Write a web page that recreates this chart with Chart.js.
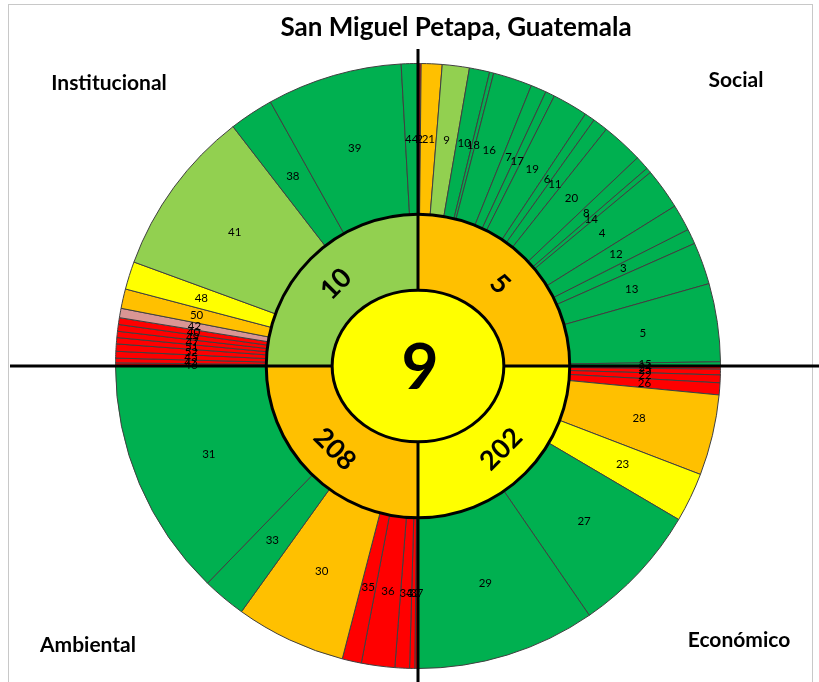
<!DOCTYPE html>
<html lang="es">
<head>
<meta charset="utf-8">
<title>San Miguel Petapa, Guatemala</title>
<script src="https://cdn.jsdelivr.net/npm/chart.js@4.4.1/dist/chart.umd.min.js"></script>
<style>
    html, body { margin: 0; padding: 0; background: #fff; }
    #wrap { width: 819px; height: 682px; }
</style>
</head>
<body>
<div id="wrap"><canvas id="sunburst" width="819" height="682"></canvas></div>
<script>
// Anillo exterior: indicadores en orden horario desde las 12
const indicadores = [
    '1', '2', '21', '9', '10', '18', '16', '7', '17', '19', '6', '11', '20', '8', '14', '4', '12', '3', '13', '5', '15',
    '24', '25', '22', '26', '28', '23', '27', '29',
    '37', '32', '34', '36', '35', '30', '33', '31',
    '46', '43', '45', '52', '51', '47', '49', '40', '42', '50', '48', '41', '38', '39', '44'
];
// peso (ancho angular) de cada indicador
const pesos = [
    0.2, 0.4, 4.0, 5.2, 3.9, 0.8, 7.5, 3.0, 1.8, 6.8, 2.0, 2.9, 8.0, 2.7, 1.0, 7.9, 5.1, 2.9, 8.1, 15.0, 0.8,
    0.6, 1.1, 1.5, 2.3, 15.5, 9.5, 25.0, 34.5,
    0.6, 1.0, 2.8, 6.4, 3.7, 21.2, 8.4, 45.9,
    0.6, 0.9, 1.3, 1.4, 1.2, 1.2, 1.3, 1.3, 1.8, 3.75, 5.35, 32.2, 8.5, 26.0, 3.2
];
const estados = [
    'rojo', 'rojo', 'naranja', 'verdeClaro', 'verde', 'verde', 'verde', 'verde', 'verde', 'verde', 'verde',
    'verde', 'verde', 'verde', 'verde', 'verde', 'verde', 'verde', 'verde', 'verde', 'verde',
    'rojo', 'rojo', 'rojo', 'rojo', 'naranja', 'amarillo', 'verde', 'verde',
    'rojo', 'rojo', 'rojo', 'rojo', 'rojo', 'naranja', 'verde', 'verde',
    'rojo', 'rojo', 'rojo', 'rojo', 'rojo', 'rojo', 'rojo', 'rojo', 'rosa', 'naranja', 'amarillo', 'verdeClaro',
    'verde', 'verde', 'verde'
];

// Anillo intermedio: dimensiones
const dimensiones = ['Social', 'Económico', 'Ambiental', 'Institucional'];
const dimValores = ['5', '202', '208', '10'];
const dimPesos = [90, 90, 90, 90];
const dimEstados = ['naranja', 'amarillo', 'naranja', 'verdeClaro'];

// Centro: posicion global
const global = '9';
const globalEstado = 'amarillo';

const titulo = 'San Miguel Petapa, Guatemala';

const colores = {
    rojo: '#FF0000',
    naranja: '#FFC000',
    amarillo: '#FFFF00',
    verdeClaro: '#92D050',
    verde: '#00B050',
    rosa: '#DA9694'
};

const fuente = 'Lato, "Open Sans", sans-serif';
const ESCALA_X_CENTRO = 86 / 76;   // el circulo central es algo mas ancho que alto

// Normaliza un angulo de texto para que siempre se lea de izquierda a derecha
function anguloLegible(a) {
    while (a > Math.PI / 2) a -= Math.PI;
    while (a <= -Math.PI / 2) a += Math.PI;
    return a;
}

const decoracion = {
    id: 'decoracion',
    beforeDraw(chart) {
        const ctx = chart.ctx;
        ctx.save();
        ctx.fillStyle = '#fff';
        ctx.fillRect(0, 0, chart.width, chart.height);
        // marco
        ctx.strokeStyle = '#c8c8c8';
        ctx.lineWidth = 1;
        ctx.strokeRect(8.5, 4.5, 804, 700);
        // titulo
        ctx.fillStyle = '#000';
        ctx.textAlign = 'center';
        ctx.textBaseline = 'middle';
        ctx.font = 'bold 26px ' + fuente;
        ctx.fillText(titulo, 456, 28);
        // nombres de dimensiones en las esquinas
        ctx.font = 'bold 21px ' + fuente;
        ctx.fillText(dimensiones[0], 736, 80);
        ctx.fillText(dimensiones[1], 739, 640);
        ctx.fillText(dimensiones[2], 88, 645);
        ctx.fillText(dimensiones[3], 109, 83);
        ctx.restore();
    },
    beforeDatasetDraw(chart, args) {
        if (args.index !== 2) return;
        const ctx = chart.ctx;
        const arco = args.meta.data[0];
        // ejes que separan los cuadrantes
        ctx.save();
        ctx.strokeStyle = '#000';
        ctx.lineWidth = 3;
        ctx.beginPath();
        ctx.moveTo(10, arco.y);
        ctx.lineTo(chart.width, arco.y);
        ctx.moveTo(arco.x, 49);
        ctx.lineTo(arco.x, chart.height);
        ctx.stroke();
        ctx.restore();
        // centro ovalado
        ctx.save();
        ctx.translate(arco.x, arco.y);
        ctx.scale(ESCALA_X_CENTRO, 1);
        ctx.translate(-arco.x, -arco.y);
    },
    afterDatasetDraw(chart, args) {
        if (args.index !== 2) return;
        chart.ctx.restore();
    },
    afterDatasetsDraw(chart) {
        const ctx = chart.ctx;
        const externo = chart.getDatasetMeta(0).data;
        const medio = chart.getDatasetMeta(1).data;
        const centro = chart.getDatasetMeta(2).data[0];
        const cx = centro.x, cy = centro.y;

        ctx.save();
        ctx.strokeStyle = '#000';
        ctx.lineWidth = 3;
        ctx.beginPath();
        ctx.arc(cx, cy, medio[0].outerRadius, 0, Math.PI * 2);
        ctx.stroke();
        ctx.beginPath();
        ctx.ellipse(cx, cy, centro.outerRadius * ESCALA_X_CENTRO, centro.outerRadius, 0, 0, Math.PI * 2);
        ctx.stroke();

        ctx.fillStyle = '#000';
        ctx.textAlign = 'center';
        ctx.textBaseline = 'middle';

        // etiquetas de indicadores
        ctx.font = '11.5px ' + fuente;
        externo.forEach((arc, i) => {
            const p = arc.getCenterPoint();
            ctx.fillText(indicadores[i], p.x, p.y);
        });

        // etiquetas de dimensiones, tangentes al anillo
        ctx.font = 'bold 27px ' + fuente;
        medio.forEach((arc, i) => {
            const mid = (arc.startAngle + arc.endAngle) / 2;
            const r = (arc.innerRadius + arc.outerRadius) / 2 + 3;
            ctx.save();
            ctx.translate(cx + Math.cos(mid) * r, cy + Math.sin(mid) * r);
            ctx.rotate(anguloLegible(mid + Math.PI / 2));
            ctx.fillText(dimValores[i], 0, 1);
            ctx.restore();
        });

        // valor global
        ctx.font = 'bold 64px ' + fuente;
        ctx.fillText(global, cx + 2, cy + 2);
        ctx.restore();
    }
};

const ctx = document.getElementById('sunburst').getContext('2d');
new Chart(ctx, {
    type: 'doughnut',
    data: {
        labels: indicadores,
        datasets: [
            {
                label: 'Indicadores',
                data: pesos,
                backgroundColor: estados.map(e => colores[e]),
                borderColor: '#404040',
                borderWidth: 1,
                weight: 151
            },
            {
                label: 'Dimensiones',
                data: dimPesos,
                backgroundColor: dimEstados.map(e => colores[e]),
                borderWidth: 0,
                weight: 76
            },
            {
                label: 'Global',
                data: [1],
                backgroundColor: [colores[globalEstado]],
                borderWidth: 0,
                weight: 76,
                order: -1
            }
        ]
    },
    options: {
        responsive: false,
        animation: false,
        cutout: 0,
        hoverOffset: 0,
        events: [],
        layout: {
            padding: { left: 115, right: 98, top: 63, bottom: 13 }
        },
        plugins: {
            legend: { display: false },
            title: { display: false },
            tooltip: { enabled: false }
        }
    },
    plugins: [decoracion]
});
</script>
</body>
</html>
